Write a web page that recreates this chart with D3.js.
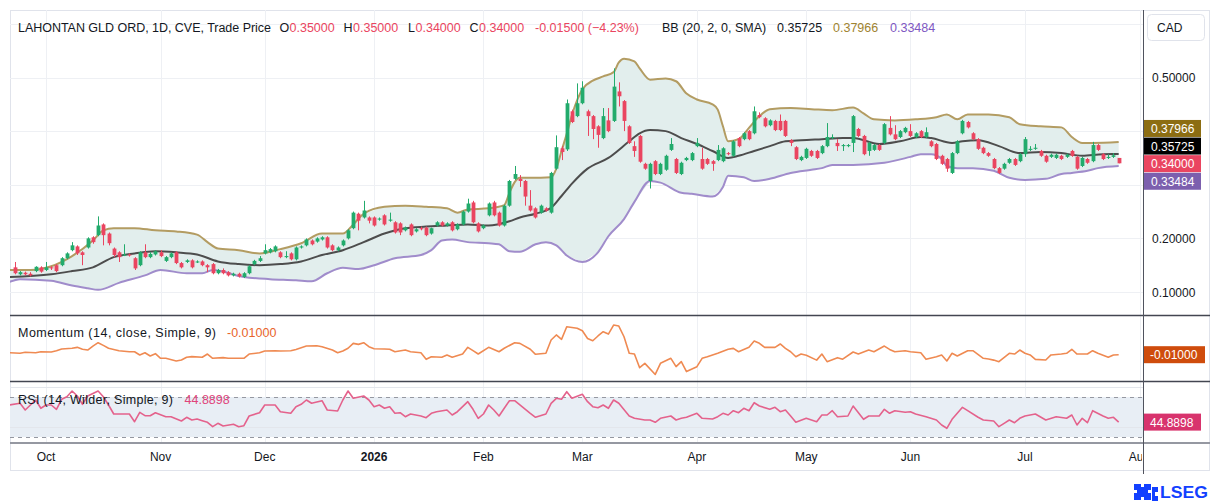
<!DOCTYPE html>
<html>
<head>
<meta charset="utf-8">
<script src="https://cdn.jsdelivr.net/npm/d3@7"></script>
<style>
  body { margin: 0; background: #fff; }
  svg { display: block; font-family: "Liberation Sans", Arial, sans-serif; }
</style>
</head>
<body>
<svg id="chart" width="1220" height="503"></svg>
<script>
// bar 0 sits just left of the pane edge, the first candle drawn is bar 1 (late Sep 2025)
var candleStart = 1;

var open = [
  .146,.133,.136,.134,.139,.146,.141,.146,.150,.150,
  .163,.178,.185,.174,.183,.202,.206,.226,.209,.181,
  .174,.168,.170,.163,.150,.174,.165,.170,.174,.158,
  .165,.174,.154,.156,.159,.155,.157,.150,.152,.135,
  .141,.137,.131,.134,.128,.135,.152,.158,.172,.174,
  .176,.174,.165,.172,.161,.183,.187,.196,.194,.198,
  .202,.187,.178,.187,.200,.219,.246,.239,.239,.239,
  .235,.243,.233,.230,.228,.215,.226,.213,.219,.220,
  .209,.224,.230,.224,.230,.217,.226,.250,.267,.228,
  .219,.243,.267,.248,.224,.261,.311,.311,.307,.261,
  .256,.248,.256,.248,.330,.368,.366,.437,.428,.452,
  .437,.428,.409,.387,.420,.419,.474,.456,.409,.372,
  .391,.339,.307,.344,.320,.328,.365,.348,.320,.346,
  .346,.372,.348,.348,.344,.346,.344,.359,.354,.387,
  .385,.400,.396,.430,.424,.411,.419,.419,.419,.383,
  .370,.346,.350,.363,.363,.359,.372,.387,.378,.372,
  .372,.378,.404,.391,.363,.365,.374,.378,.406,.394,
  .389,.398,.400,.389,.400,.389,.381,.376,.354,.348,
  .322,.359,.396,.417,.396,.385,.369,.359,.348,.331,
  .330,.341,.348,.344,.357,.365,.367,.363,.354,.352,
  .350,.354,.352,.363,.352,.335,.348,.344,.374,.357,
  .350,.352,.350
];
var high = [
  .156,.139,.138,.137,.148,.148,.156,.148,.152,.165,
  .174,.193,.187,.176,.202,.204,.241,.228,.211,.183,
  .176,.189,.172,.165,.176,.189,.174,.178,.178,.167,
  .174,.176,.156,.161,.161,.159,.159,.152,.154,.143,
  .144,.139,.136,.136,.137,.150,.160,.167,.189,.182,
  .187,.176,.176,.174,.185,.187,.200,.198,.202,.204,
  .204,.189,.185,.198,.217,.250,.248,.270,.241,.241,
  .239,.245,.248,.232,.230,.222,.228,.219,.222,.222,
  .220,.232,.232,.230,.232,.228,.252,.274,.270,.230,
  .226,.267,.270,.250,.263,.309,.335,.318,.309,.290,
  .258,.263,.258,.324,.392,.372,.459,.440,.489,.493,
  .440,.430,.411,.443,.443,.517,.491,.458,.411,.381,
  .393,.341,.341,.346,.341,.356,.387,.350,.343,.352,
  .361,.387,.369,.350,.346,.374,.370,.361,.383,.389,
  .398,.402,.446,.435,.426,.422,.421,.431,.421,.385,
  .372,.354,.369,.365,.365,.374,.415,.394,.385,.376,
  .376,.430,.406,.393,.380,.376,.376,.415,.428,.411,
  .402,.408,.413,.398,.402,.407,.383,.378,.356,.350,
  .361,.383,.421,.419,.398,.387,.371,.361,.350,.333,
  .341,.350,.350,.359,.389,.372,.376,.365,.356,.358,
  .358,.356,.358,.365,.354,.352,.350,.380,.376,.359,
  .357,.359,.350
];
var low = [
  .133,.131,.131,.129,.137,.136,.139,.141,.137,.148,
  .161,.176,.169,.150,.181,.190,.204,.187,.187,.165,
  .156,.167,.166,.141,.148,.163,.163,.168,.165,.156,
  .163,.152,.144,.154,.144,.154,.148,.137,.133,.133,
  .133,.129,.129,.127,.126,.133,.150,.156,.170,.172,
  .174,.163,.163,.159,.159,.181,.185,.187,.192,.196,
  .181,.176,.176,.185,.198,.217,.215,.237,.228,.222,
  .233,.224,.231,.209,.206,.213,.204,.211,.215,.204,
  .207,.222,.222,.222,.213,.215,.224,.248,.228,.211,
  .217,.241,.241,.222,.222,.259,.309,.296,.261,.250,
  .237,.246,.250,.246,.328,.346,.363,.415,.426,.450,
  .391,.385,.369,.385,.398,.417,.446,.400,.376,.352,
  .341,.328,.293,.318,.318,.326,.363,.320,.318,.344,
  .344,.370,.328,.337,.326,.344,.342,.355,.352,.370,
  .383,.383,.394,.424,.407,.409,.400,.400,.389,.372,
  .346,.344,.348,.352,.348,.357,.370,.385,.363,.363,
  .370,.361,.389,.355,.354,.363,.363,.376,.392,.383,
  .387,.396,.389,.387,.387,.387,.370,.346,.337,.324,
  .320,.357,.394,.405,.383,.365,.357,.352,.329,.320,
  .328,.339,.335,.342,.352,.363,.365,.352,.341,.350,
  .348,.346,.350,.352,.328,.333,.339,.342,.363,.346,
  .348,.350,.340
];
var close = [
  .135,.137,.133,.131,.147,.138,.146,.144,.139,.163,
  .172,.187,.172,.169,.200,.193,.224,.206,.191,.169,
  .165,.170,.168,.144,.174,.165,.171,.176,.167,.165,
  .172,.154,.146,.159,.146,.157,.150,.146,.135,.141,
  .135,.131,.134,.129,.135,.148,.158,.163,.178,.180,
  .185,.165,.167,.161,.183,.185,.198,.189,.200,.202,
  .183,.178,.183,.196,.215,.248,.233,.252,.233,.224,
  .237,.226,.235,.211,.211,.220,.206,.217,.217,.206,
  .219,.230,.224,.228,.215,.226,.250,.265,.230,.213,
  .224,.265,.243,.224,.261,.307,.320,.307,.278,.252,
  .239,.261,.252,.322,.370,.361,.452,.417,.452,.481,
  .428,.404,.393,.428,.400,.483,.465,.419,.378,.363,
  .343,.330,.339,.320,.339,.354,.376,.322,.341,.350,
  .359,.378,.330,.339,.339,.365,.368,.357,.381,.372,
  .396,.385,.437,.426,.409,.420,.402,.402,.391,.378,
  .348,.352,.367,.354,.350,.372,.389,.389,.372,.374,
  .374,.428,.391,.357,.378,.374,.365,.413,.394,.385,
  .400,.406,.391,.396,.389,.398,.372,.348,.339,.330,
  .359,.381,.419,.407,.385,.367,.359,.354,.331,.322,
  .339,.348,.337,.357,.385,.367,.369,.354,.343,.356,
  .356,.348,.356,.354,.330,.350,.341,.374,.365,.348,
  .352,.355,.340
];

// Bollinger Bands (20, 2): [bar, value]
var bbUpper = [[0,.141],[4,.141],[8,.148],[12,.167],[16,.196],[18,.215],[20,.219],[24,.219],[28,.215],[32,.213],
  [36,.207],[38,.193],[40,.181],[44,.178],[48,.172],[52,.180],[56,.191],[60,.209],[64,.209],[66,.226],
  [68,.246],[72,.259],[76,.261],[80,.259],[84,.256],[86,.248],[88,.254],[92,.256],[95,.262],[96,.285],
  [97,.305],[98,.313],[100,.313],[104,.314],[105,.330],[106,.363],[107,.395],[108,.430],[110,.478],[112,.494],
  [114,.502],[116,.510],[117,.528],[118,.535],[120,.530],[121,.517],[123,.496],[126,.498],[128,.493],[130,.470],
  [132,.459],[135,.450],[136,.440],[137,.409],[138,.381],[140,.385],[142,.406],[144,.428],[146,.441],[150,.443],
  [154,.441],[158,.439],[162,.444],[164,.433],[166,.422],[170,.420],[174,.422],[178,.426],[180,.431],[182,.422],
  [184,.431],[188,.431],[192,.426],[194,.413],[198,.409],[202,.407],[204,.389],[206,.378],[208,.378],[213,.37966]];
var bbBasis = [[0,.128],[8,.133],[12,.139],[16,.146],[20,.165],[24,.172],[28,.176],[32,.174],[36,.170],[40,.157],
  [44,.152],[48,.150],[52,.152],[56,.157],[60,.169],[64,.178],[68,.193],[72,.209],[76,.219],[80,.222],
  [84,.224],[88,.226],[92,.224],[96,.232],[98,.239],[101,.246],[104,.257],[106,.279],[108,.302],[111,.330],
  [115,.350],[119,.381],[121,.396],[123,.402],[126,.400],[129,.387],[132,.376],[135,.363],[138,.350],[140,.354],
  [143,.363],[146,.372],[149,.381],[152,.383],[156,.385],[160,.387],[162,.387],[167,.376],[171,.381],[175,.389],
  [177,.387],[181,.378],[183,.381],[186,.383],[190,.372],[194,.359],[198,.361],[202,.359],[206,.354],[210,.357],
  [213,.35725]];
var bbLower = [[0,.119],[2,.124],[8,.121],[12,.112],[15,.107],[17,.104],[21,.117],[26,.131],[29,.141],[34,.135],
  [37,.135],[39,.141],[45,.128],[50,.124],[55,.122],[58,.120],[61,.135],[64,.145],[67,.143],[70,.150],
  [74,.163],[79,.169],[81,.178],[83,.196],[85,.198],[88,.193],[92,.191],[94,.189],[96,.176],[98,.175],
  [101,.189],[103,.193],[105,.187],[107,.168],[110,.156],[113,.174],[115,.204],[118,.236],[120,.268],[123,.307],
  [125,.304],[129,.285],[131,.283],[135,.278],[137,.296],[138,.317],[141,.314],[143,.307],[146,.311],[150,.322],
  [154,.328],[156,.331],[158,.337],[162,.337],[168,.341],[173,.352],[175,.357],[177,.357],[179,.348],[180,.335],
  [182,.331],[185,.331],[189,.326],[192,.313],[195,.309],[199,.311],[202,.320],[204,.322],[207,.326],[209,.331],
  [213,.33484]];

// Momentum (14): [bar, value]
var momentum = [[0,.005],[2,.001],[3,.009],[5,.005],[6,.013],[8,.011],[9,.021],[10,.034],[12,.040],[13,.047],
  [14,.032],[15,.026],[16,.057],[17,.083],[18,.062],[19,.040],[21,.021],[23,.013],[24,.013],[25,-.012],
  [26,.005],[27,-.020],[28,-.002],[29,-.038],[30,-.038],[32,-.059],[33,-.051],[34,-.030],[35,-.025],[37,-.030],
  [38,-.005],[39,-.038],[41,-.033],[42,-.038],[44,-.038],[45,-.038],[46,-.005],[48,.005],[49,.019],[51,.021],
  [52,.019],[54,.021],[55,.031],[56,.044],[57,.057],[59,.059],[60,.052],[62,.026],[63,.005],[64,.019],
  [65,.040],[66,.078],[67,.070],[68,.083],[69,.052],[70,.036],[72,.034],[73,.032],[74,.013],[76,.026],
  [77,.013],[79,.005],[80,-.046],[81,-.026],[83,-.030],[84,-.012],[85,-.030],[87,-.005],[88,.047],[89,.021],
  [90,-.005],[92,.047],[94,.013],[95,.040],[97,.083],[98,.078],[100,.032],[101,-.007],[103,.001],[104,.104],
  [105,.143],[106,.109],[107,.207],[109,.195],[110,.176],[111,.116],[112,.098],[113,.135],[114,.168],[115,.150],
  [116,.220],[117,.212],[118,.129],[119,.001],[120,-.005],[121,-.111],[122,-.077],[124,-.163],[125,-.077],[127,-.038],
  [128,-.103],[129,-.064],[130,-.141],[132,-.103],[133,-.038],[134,-.026],[136,.001],[138,.032],[139,.039],[140,.013],
  [142,.047],[143,.096],[144,.078],[145,.047],[147,.047],[148,.073],[149,.039],[150,.013],[151,-.026],[152,-.005],
  [153,-.015],[155,-.052],[156,-.005],[157,-.064],[159,-.033],[160,-.045],[162,.011],[163,-.005],[165,.026],[166,.013],
  [168,.057],[169,.031],[170,.013],[172,.021],[173,.013],[175,.005],[176,-.046],[178,-.026],[179,-.012],[180,-.059],
  [181,.001],[182,-.020],[184,.021],[185,.021],[187,-.038],[188,-.043],[189,-.052],[190,-.064],[192,.001],[193,-.005],
  [194,.026],[195,.001],[196,-.012],[197,-.046],[199,-.051],[200,-.012],[202,-.005],[203,.001],[204,.032],[205,-.005],
  [207,-.005],[208,.021],[209,.001],[211,-.030],[212,-.012],[213,-.010]];

// RSI (14): [bar, value]
var rsi = [[0,62],[2,63.7],[3,57],[4,62],[5,67],[6,58.7],[7,62],[8,62],[9,57.7],[10,67.7],
  [11,70.3],[12,76],[13,71],[14,62.7],[15,71],[17,76],[18,70.3],[19,62],[20,53],[22,53],
  [23,53],[24,45.3],[25,54.7],[26,51.3],[27,51.3],[28,54.3],[30,50.3],[31,50.3],[33,46],[34,49.7],
  [35,47],[36,48],[37,46.3],[38,44.7],[39,40.3],[40,43.7],[41,41],[43,42.7],[44,40.3],[45,41.3],
  [46,51],[48,54.3],[49,62],[51,62],[52,55.3],[54,53.7],[55,60.3],[56,62.7],[57,67],[58,63.7],
  [60,66.3],[61,57],[63,56],[64,67],[65,76],[66,68.7],[68,71],[69,67],[70,60.3],[71,62],
  [72,58.7],[73,60.3],[74,53.7],[75,54.3],[76,50.3],[77,53],[79,51],[80,49.3],[81,53.7],[82,55.3],
  [84,57],[85,52],[86,55.3],[88,65.3],[89,57.7],[90,48.7],[91,53],[92,62],[93,57],[94,51],
  [95,58.7],[96,66.3],[97,66.3],[100,53.7],[101,49.7],[103,53],[104,63.7],[105,68.7],[106,67.7],[107,75.3],
  [108,68.7],[110,72.7],[111,65.3],[112,60.3],[113,59.3],[114,62],[115,58.7],[116,67],[117,63.7],[119,51],
  [120,48.7],[122,47],[123,47],[124,44.7],[125,48.7],[127,51],[128,47],[129,48.7],[130,49.7],[132,53.7],
  [133,48.7],[135,48],[136,50.3],[137,53.7],[138,52],[139,56.3],[140,54.3],[141,58.7],[142,56.3],[143,64.3],
  [144,61],[146,57.7],[147,59.7],[148,55.3],[149,57],[150,51],[151,44.7],[153,48.7],[154,47],[155,45.3],
  [156,52],[157,52],[158,56.3],[159,50.3],[161,51],[162,61],[164,47.7],[165,51],[167,51],[168,57.7],
  [169,53.7],[170,56.3],[172,54.7],[173,55.3],[174,53],[176,50.3],[178,47],[179,42],[180,38.7],[181,47.7],
  [183,59.7],[184,56.3],[186,49.7],[187,47],[189,46],[190,40.3],[191,43.7],[192,47],[193,44.3],[194,48.7],
  [195,51],[197,53],[199,47],[201,50.3],[203,48.7],[204,52],[205,42],[206,48.7],[207,44.3],[208,56.3],
  [210,51],[211,48.7],[212,49.7],[213,44.8898]];

var months = ["Oct", "Nov", "Dec", "2026", "Feb", "Mar", "Apr", "May", "Jun", "Jul", "Aug"];
var monthBars = [7, 29, 49, 70, 91, 110, 132, 153, 173, 195, 217];
var priceGrid = [0.1, 0.2, 0.3, 0.4, 0.5, 0.6];
var priceLabels = [0.1, 0.2, 0.5];
var rsiBands = [30, 70];
var rsiGrid = [40, 80];

var green = "#22ab6c", red = "#ea4560", dark = "#131722";
var left = 10, right = 1210, axisX = 1143;
var paneTop = 10, mainBottom = 315, momBottom = 381, rsiBottom = 443, frameBottom = 470;

var svg = d3.select("#chart");

var x = d3.scaleLinear().domain([0, 217]).range([9.6, 1139.5]);
var y = d3.scaleLinear().domain([0.1, 0.5]).range([292, 77.5]);
var yMom = d3.scaleLinear().domain([-0.214, 0.29]).range([momBottom, mainBottom + 1]);
var yRsi = d3.scaleLinear().domain([24, 86]).range([rsiBottom, momBottom]);

var defs = svg.append("defs");
function clip(id, y0, y1, x1) {
  defs.append("clipPath").attr("id", id).append("rect")
    .attr("x", left).attr("y", y0).attr("width", (x1 || axisX) - left).attr("height", y1 - y0);
}
clip("cMain", paneTop, mainBottom);
clip("cMom", mainBottom, momBottom);
clip("cRsi", momBottom, rsiBottom);
clip("cAxis", rsiBottom, frameBottom, axisX - 1);

// frame
svg.append("rect").attr("x", left + 0.5).attr("y", paneTop + 0.5)
  .attr("width", right - left - 1).attr("height", frameBottom - paneTop)
  .attr("fill", "none").attr("stroke", "#e0e3eb");

// grid
var grid = svg.append("g").attr("stroke", "#eef0f4").attr("stroke-width", 1);
monthBars.forEach(function (b) {
  if (x(b) > axisX) return;
  grid.append("line").attr("x1", Math.round(x(b)) + 0.5).attr("x2", Math.round(x(b)) + 0.5)
    .attr("y1", paneTop).attr("y2", rsiBottom);
});
priceGrid.forEach(function (v) {
  grid.append("line").attr("x1", left).attr("x2", axisX)
    .attr("y1", Math.round(y(v)) + 0.5).attr("y2", Math.round(y(v)) + 0.5);
});

// main pane
var main = svg.append("g").attr("clip-path", "url(#cMain)");
var bandPoly = bbUpper.concat(bbLower.slice().reverse());
main.append("path")
  .attr("d", d3.line().x(function (d) { return x(d[0]); }).y(function (d) { return y(d[1]); })(bandPoly) + "Z")
  .attr("fill", "#e2eeed");

var bandLine = d3.line().curve(d3.curveMonotoneX)
  .x(function (d) { return x(d[0]); }).y(function (d) { return y(d[1]); });
[[bbUpper, "#b39c62"], [bbLower, "#a08ccb"], [bbBasis, "#4d4d4d"]].forEach(function (s) {
  main.append("path").attr("d", bandLine(s[0])).attr("fill", "none")
    .attr("stroke", s[1]).attr("stroke-width", 2).attr("stroke-linejoin", "round");
});

close.forEach(function (c, k) {
  var bar = candleStart + k, o = open[k];
  var col = c >= o ? green : red;
  var cx = Math.round(x(bar)) + 0.5;
  main.append("line").attr("x1", cx).attr("x2", cx)
    .attr("y1", y(high[k])).attr("y2", y(low[k]))
    .attr("stroke", col).attr("stroke-width", 1);
  var top = y(Math.max(o, c)), h = Math.max(1, Math.abs(y(o) - y(c)));
  main.append("rect").attr("x", cx - 1.9).attr("y", top)
    .attr("width", 3.8).attr("height", h).attr("fill", col);
});

// momentum pane
var mom = svg.append("g").attr("clip-path", "url(#cMom)");
mom.append("path")
  .attr("d", d3.line().x(function (d) { return x(d[0]); }).y(function (d) { return yMom(d[1]); })(momentum))
  .attr("fill", "none").attr("stroke", "#ef8a52").attr("stroke-width", 1.6).attr("stroke-linejoin", "round");

// rsi pane
var rp = svg.append("g").attr("clip-path", "url(#cRsi)");
rp.append("rect").attr("x", left).attr("width", axisX - left)
  .attr("y", yRsi(rsiBands[1])).attr("height", yRsi(rsiBands[0]) - yRsi(rsiBands[1]))
  .attr("fill", "#e8eef5");
rsiGrid.forEach(function (v) {
  rp.append("line").attr("x1", left).attr("x2", axisX)
    .attr("y1", Math.round(yRsi(v)) + 0.5).attr("y2", Math.round(yRsi(v)) + 0.5)
    .attr("stroke", "#e3e6ec");
});
rsiBands.forEach(function (v) {
  rp.append("line").attr("x1", left).attr("x2", axisX)
    .attr("y1", Math.round(yRsi(v)) + 0.5).attr("y2", Math.round(yRsi(v)) + 0.5)
    .attr("stroke", "#9598a1").attr("stroke-dasharray", "4,4");
});
rp.append("path")
  .attr("d", d3.line().x(function (d) { return x(d[0]); }).y(function (d) { return yRsi(d[1]); })(rsi))
  .attr("fill", "none").attr("stroke", "#e4628c").attr("stroke-width", 1.6).attr("stroke-linejoin", "round");

// separators and axis lines
svg.append("line").attr("x1", left).attr("x2", right).attr("y1", mainBottom + 0.5).attr("y2", mainBottom + 0.5)
  .attr("stroke", "#434651").attr("stroke-width", 1.5);
svg.append("line").attr("x1", left).attr("x2", right).attr("y1", momBottom + 0.5).attr("y2", momBottom + 0.5)
  .attr("stroke", "#434651").attr("stroke-width", 1.5);
svg.append("line").attr("x1", left).attr("x2", right).attr("y1", rsiBottom).attr("y2", rsiBottom)
  .attr("stroke", "#9598a1").attr("stroke-width", 2);
svg.append("line").attr("x1", axisX + 0.5).attr("x2", axisX + 0.5).attr("y1", paneTop).attr("y2", frameBottom + 4)
  .attr("stroke", "#50535e").attr("stroke-width", 1);

// price axis labels
priceLabels.forEach(function (v) {
  svg.append("text").attr("x", 1152).attr("y", y(v) + 4.5).text(v.toFixed(5))
    .attr("font-size", "12px").attr("fill", dark);
});

// CAD box
svg.append("rect").attr("x", 1147.5).attr("y", 14.5).attr("width", 57).attr("height", 26).attr("rx", 4)
  .attr("fill", "#fff").attr("stroke", "#e0e3eb");
svg.append("text").attr("x", 1157).attr("y", 31.5).text("CAD").attr("font-size", "12px").attr("fill", dark);

// stacked value tags on the price axis
var last = close.length - 1;
var tags = [
  { v: bbUpper[bbUpper.length - 1][1], color: "#8c6d12" },
  { v: bbBasis[bbBasis.length - 1][1], color: "#000000" },
  { v: close[last], color: red },
  { v: bbLower[bbLower.length - 1][1], color: "#7c5fae" }
];
tags.sort(function (a, b) { return b.v - a.v; });
var tagH = 17.6;
var mid = d3.mean(tags, function (t) { return y(t.v); }) - 1.5;
tags.forEach(function (t, k) {
  var cy = mid + (k - (tags.length - 1) / 2) * tagH;
  svg.append("rect").attr("x", axisX + 1).attr("y", cy - 8.5).attr("width", 57).attr("height", 17)
    .attr("fill", t.color);
  svg.append("text").attr("x", 1151).attr("y", cy + 4.5).text(t.v.toFixed(5))
    .attr("font-size", "12px").attr("fill", "#fff");
});

var momLast = momentum[momentum.length - 1][1];
var rsiLast = rsi[rsi.length - 1][1];
[[yMom(momLast), "#cf4c0c", momLast.toFixed(5), 61], [yRsi(rsiLast), "#d8336d", rsiLast.toFixed(4), 57]].forEach(function (t) {
  svg.append("rect").attr("x", axisX + 1).attr("y", t[0] - 8.5).attr("width", t[3]).attr("height", 17)
    .attr("fill", t[1]);
  svg.append("text").attr("x", 1150).attr("y", t[0] + 4.5).text(t[2])
    .attr("font-size", "12px").attr("fill", "#fff");
});

// time axis
var ax = svg.append("g").attr("clip-path", "url(#cAxis)");
months.forEach(function (m, k) {
  ax.append("text").attr("x", x(monthBars[k])).attr("y", 461).attr("text-anchor", "middle")
    .text(m).attr("font-size", "12px").attr("fill", dark)
    .attr("font-weight", m === "2026" ? "bold" : "normal");
});

// legends
var prev = close[last - 1];
var chg = close[last] - prev;
var pct = chg / prev * 100;
var hdr = [
  [18, "LAHONTAN GLD ORD, 1D, CVE, Trade Price", dark, 253],
  [279.5, "O", dark], [289.5, open[last].toFixed(5), red],
  [343.5, "H", dark], [353, high[last].toFixed(5), red],
  [408, "L", dark], [415.5, low[last].toFixed(5), red],
  [469.5, "C", dark], [479, close[last].toFixed(5), red],
  [535, (chg < 0 ? "-" : "+") + Math.abs(chg).toFixed(5) + " (" + (pct < 0 ? "\u2212" : "+") + Math.abs(pct).toFixed(2) + "%)", red],
  [662, "BB (20, 2, 0, SMA)", dark],
  [777, tags[1].v.toFixed(5), dark],
  [833, tags[0].v.toFixed(5), "#a08430"],
  [890, tags[3].v.toFixed(5), "#7e57c2"]
];
hdr.forEach(function (h) {
  var t = svg.append("text").attr("x", h[0]).attr("y", 31.5).text(h[1])
    .attr("font-size", "12.5px").attr("fill", h[2]);
  if (h[3]) t.attr("textLength", h[3]).attr("lengthAdjust", "spacing");
});

svg.append("text").attr("x", 18).attr("y", 337).text("Momentum (14, close, Simple, 9)")
  .attr("font-size", "12.5px").attr("fill", dark).attr("textLength", 198).attr("lengthAdjust", "spacing");
svg.append("text").attr("x", 227).attr("y", 337).text(momLast.toFixed(5))
  .attr("font-size", "12.5px").attr("fill", "#e8632b");
svg.append("text").attr("x", 18).attr("y", 403.5).text("RSI (14, Wilder, Simple, 9)")
  .attr("font-size", "12.5px").attr("fill", dark).attr("textLength", 155).attr("lengthAdjust", "spacing");
svg.append("text").attr("x", 184.5).attr("y", 403.5).text(rsiLast.toFixed(4))
  .attr("font-size", "12.5px").attr("fill", "#e0457b");

// LSEG mark
var logo = svg.append("g").attr("transform", "translate(1133,483)").attr("fill", "#1240ff");
logo.append("path").attr("d", "M1 1 h7 v3 h3 v-3 h7 v6 h-3 v3 h3 v7 h-7 v-3 h-3 v3 h-7 v-7 h3 v-3 h-3 z");
logo.append("path").attr("d", "M19 4 h6 v5 h-3 v4 h3 v5 h-6 z");
svg.append("text").attr("x", 1160).attr("y", 498).text("LSEG")
  .attr("font-size", "17px").attr("font-weight", "bold").attr("fill", "#1240ff")
  .attr("textLength", 48).attr("lengthAdjust", "spacingAndGlyphs");
</script>
</body>
</html>
